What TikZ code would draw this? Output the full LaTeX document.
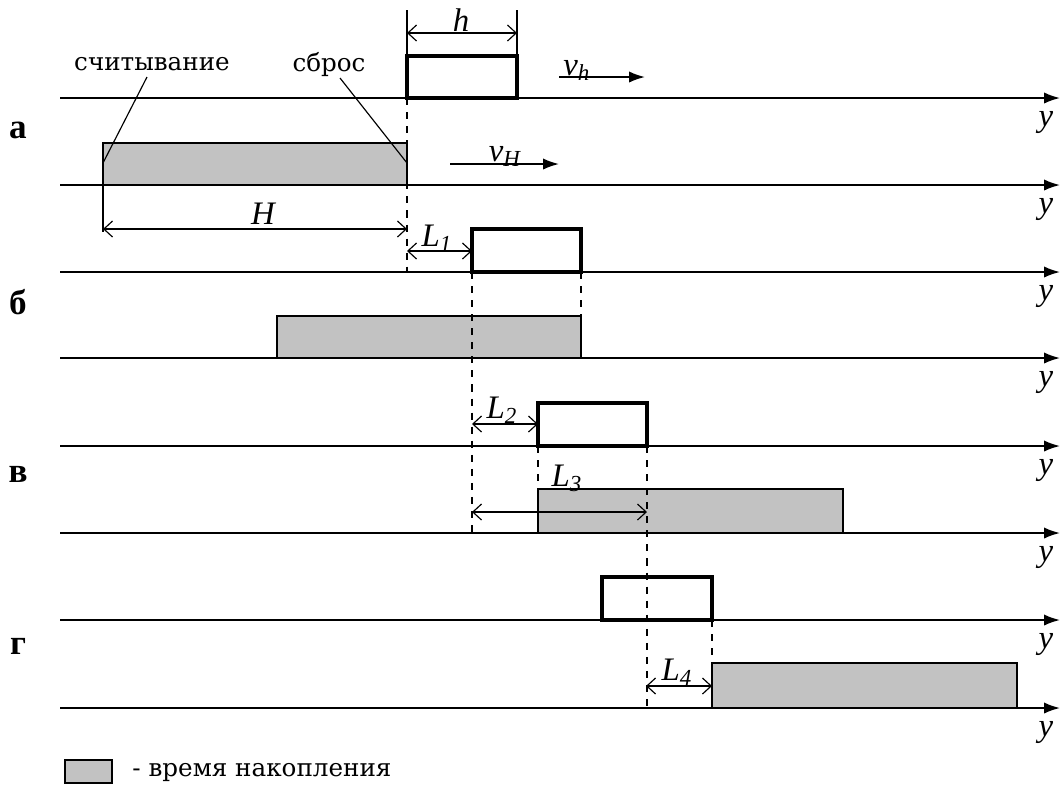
\documentclass[tikz,border=0pt]{standalone}
\usepackage{fontspec}
\setmainfont{Liberation Serif}
\newfontfamily\notefont{DejaVu Serif}
\usetikzlibrary{arrows, arrows.meta, positioning}
\definecolor{accgray}{gray}{0.76}
\tikzstyle{axis}   = [line width=0.8pt,-{Latex[length=2.4mm,width=1.7mm]}]
\tikzstyle{win}    = [line width=1.4pt, draw, fill=white]
\tikzstyle{acc}    = [line width=0.6pt, draw, fill=accgray]
\tikzstyle{dim}    = [line width=0.5pt,{Straight Barb[length=1.3mm,width=2.4mm]}-{Straight Barb[length=1.3mm,width=2.4mm]}]
\tikzstyle{guide}  = [line width=0.6pt, dashed]
\tikzstyle{lbl}    = [font=\fontsize{14}{16}\selectfont\itshape, inner sep=0pt]
\tikzstyle{rowlbl} = [font=\fontsize{15}{17}\selectfont\bfseries, inner sep=0pt]
\tikzstyle{note}   = [font=\fontsize{10.5}{12}\selectfont\notefont, inner sep=0pt]

\begin{document}
\begin{tikzpicture}[x=0.015cm, y=-0.015cm]
\useasboundingbox (0,0) rectangle (1063,785);

% time axes
\foreach \y [count=\i] in {98,185,272,358,446,533,620,708} {
  \coordinate (s\i) at (60,\y);
  \coordinate (e\i) at (1060,\y);
  \draw[axis] (s\i) -- (e\i);
  \node[lbl] (y\i) at (1046,\y+24) {y};
}

% row labels
\node[rowlbl] (ra) at (18,130) {а};
\node[rowlbl] (rb) at (18,302) {б};
\node[rowlbl] (rc) at (18,474) {в};
\node[rowlbl] (rd) at (18,646) {г};

% accumulation windows
\draw[acc] (103,143) rectangle (407,185);
\draw[acc] (277,316) rectangle (581,358);
\draw[acc] (538,489) rectangle (843,533);
\draw[acc] (712,663) rectangle (1017,708);

% windows h
\draw[win] (407,56) rectangle (517,98);
\draw[win] (472,229) rectangle (581,272);
\draw[win] (538,403) rectangle (647,446);
\draw[win] (602,577) rectangle (712,620);

% guides
\draw[guide] (407,98) -- (407,272);
\draw[guide] (472,272) -- (472,533);
\draw[guide] (581,272) -- (581,316);
\draw[guide] (538,446) -- (538,489);
\draw[guide] (647,446) -- (647,708);
\draw[guide] (712,620) -- (712,663);

% h and H
\coordinate (h1) at (407,10);
\coordinate (h2) at (517,10);
\draw[line width=0.5pt] (h1) -- (407,56);
\draw[line width=0.5pt] (h2) -- (517,56);
\draw[dim] (407,33) -- (517,33);
\node[lbl] (hl) at (461,20) {h};

\draw[line width=0.5pt] (103,185) -- (103,232);
\draw[dim] (103,229) -- (407,229);
\node[lbl] (Hl) at (263,214) {H};

% L1..L4
\draw[dim] (407,251) -- (472,251);
\node[lbl] (l1) at (437,238) {L\textsubscript{1}};
\draw[dim] (472,424) -- (538,424);
\node[lbl] (l2) at (502,410) {L\textsubscript{2}};
\draw[dim] (472,512) -- (647,512);
\node[lbl] (l3) at (567,478) {L\textsubscript{3}};
\draw[dim] (646,686) -- (712,686);
\node[lbl] (l4) at (677,672) {L\textsubscript{4}};

% speeds
\draw[axis] (559,77) -- (645,77);
\node[lbl] (vh) at (577,70) {v\textsubscript{h}};
\draw[axis] (450,164) -- (559,164);
\node[lbl] (vH) at (505,156) {v\textsubscript{H}};

% callouts
\node[note] (read) at (152,64) {считывание};
\node[note] (reset) at (329,64) {сброс};
\draw[line width=0.5pt] (147,77) -- (103,163);
\draw[line width=0.5pt] (340,78) -- (407,163);

% legend
\draw[acc] (65,760) rectangle (112,783);
\node[note, anchor=west] (leg) at (132,772) {- время накопления};

\end{tikzpicture}
\end{document}
